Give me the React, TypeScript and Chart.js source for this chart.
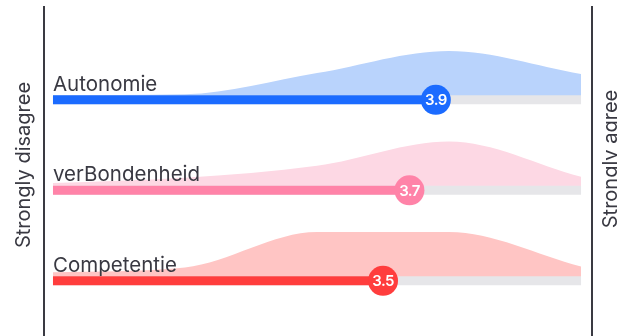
import React, { useEffect, useRef } from 'react';
import { Chart, registerables } from 'chart.js';

Chart.register(...registerables);

// ---- data ----
const CATEGORIES = ['Autonomie', 'verBondenheid', 'Competentie'];
const MEANS = [3.9, 3.7, 3.5];
const SCALE_POINTS = [1, 2, 3, 4, 5];
const DIST_AUTONOMIE = [0, 0.02, 0.5, 1, 0.48];
const DIST_VERBONDENHEID = [0.06, 0.18, 0.45, 1, 0.2];
const DIST_COMPETENTIE = [0.09, 0.2, 1, 1, 0.22];
const SIDE_LABELS = ['Strongly disagree', 'Strongly agree'];

const DISTRIBUTIONS = [DIST_AUTONOMIE, DIST_VERBONDENHEID, DIST_COMPETENTIE];

// ---- styles ----
const BAR_COLORS = ['#1b6bff', '#ff83a8', '#ff3d3d'];
const AREA_COLORS = ['#b9d3fc', '#fdd8e4', '#ffc5c4'];
const TRACK_COLOR = '#e6e6e9';
const AXIS_COLOR = '#3a3a42';
const TEXT_COLOR = '#393942';
const FONT = 'Inter, "Noto Sans", sans-serif';

const SCALE_MIN = 1;
const SCALE_MAX = 5;
const X_MIN = 0.932;
const X_MAX = 5.083;
const Y_MIN = -0.61;
const Y_MAX = 3.025;
const AREA_LIFT = 0.05;
const AREA_SCALE = 0.49;

export default function App() {
  const ref = useRef<HTMLCanvasElement>(null);

  useEffect(() => {
    const canvas = ref.current;
    if (!canvas) return;

    const datasets: any[] = [];
    const markerIdx: number[] = [];
    CATEGORIES.forEach((cat, i) => {
      const base = CATEGORIES.length - 1 - i;
      const dist = DISTRIBUTIONS[i];
      datasets.push({
        type: 'line',
        label: cat + ' distribution',
        data: SCALE_POINTS.map((x, k) => ({ x, y: base + AREA_LIFT + dist[k] * AREA_SCALE })),
        borderWidth: 0,
        borderColor: 'rgba(0,0,0,0)',
        backgroundColor: AREA_COLORS[i],
        pointRadius: 0,
        cubicInterpolationMode: 'monotone',
        fill: { value: base },
        order: 10,
      });
      datasets.push({
        type: 'line',
        label: cat + ' track',
        data: [{ x: SCALE_MIN, y: base }, { x: SCALE_MAX, y: base }],
        borderWidth: 9,
        borderColor: TRACK_COLOR,
        borderCapStyle: 'butt',
        pointRadius: 0,
        fill: false,
        order: 5,
      });
      datasets.push({
        type: 'line',
        label: cat + ' score',
        data: [{ x: SCALE_MIN, y: base }, { x: MEANS[i], y: base }],
        borderWidth: 9,
        borderColor: BAR_COLORS[i],
        borderCapStyle: 'butt',
        pointRadius: 0,
        fill: false,
        order: 3,
      });
      markerIdx.push(datasets.length);
      datasets.push({
        type: 'line',
        label: cat + ' mean',
        data: [{ x: MEANS[i], y: base }],
        showLine: false,
        pointRadius: 15,
        pointHoverRadius: 15,
        pointBorderWidth: 0,
        pointBackgroundColor: BAR_COLORS[i],
        pointBorderColor: BAR_COLORS[i],
        fill: false,
        order: 1,
      });
    });

    const textPlugin = {
      id: 'textLabels',
      afterDatasetsDraw(chart: any) {
        const { ctx, scales, chartArea } = chart;
        const xs = scales.x;
        const ys = scales.y;
        ctx.save();
        CATEGORIES.forEach((cat, i) => {
          const base = CATEGORIES.length - 1 - i;
          const py = ys.getPixelForValue(base);
          ctx.font = `400 20.5px ${FONT}`;
          ctx.fillStyle = TEXT_COLOR;
          ctx.textAlign = 'left';
          ctx.textBaseline = 'alphabetic';
          ctx.fillText(cat, xs.getPixelForValue(SCALE_MIN), py - 9);

          const pt = chart.getDatasetMeta(markerIdx[i]).data[0];
          if (pt) {
            ctx.font = `600 15px ${FONT}`;
            (ctx as any).letterSpacing = '-0.6px';
            ctx.fillStyle = '#ffffff';
            ctx.textAlign = 'center';
            ctx.textBaseline = 'middle';
            ctx.fillText(MEANS[i].toFixed(1), pt.x, pt.y + 1);
            (ctx as any).letterSpacing = '0px';
          }
        });

        ctx.font = `400 20px ${FONT}`;
        ctx.fillStyle = TEXT_COLOR;
        ctx.textAlign = 'center';
        ctx.textBaseline = 'alphabetic';
        // left side label
        ctx.save();
        ctx.translate(chartArea.left - 14, chartArea.top + 158);
        ctx.rotate(-Math.PI / 2);
        ctx.fillText(SIDE_LABELS[0], 0, 0);
        ctx.restore();
        // right side label
        ctx.save();
        ctx.translate(chart.width, chartArea.top + 152);
        ctx.rotate(-Math.PI / 2);
        ctx.fillText(SIDE_LABELS[1], 0, 0);
        ctx.restore();
        ctx.restore();
      },
    };

    const axisOpts = (position: string) => ({
      type: 'linear',
      position,
      min: Y_MIN,
      max: Y_MAX,
      ticks: { display: false },
      grid: { display: false, drawTicks: false },
      border: { display: true, color: AXIS_COLOR, width: 2 },
    });

    const chart = new Chart(canvas, {
      type: 'line',
      data: { datasets },
      options: {
        animation: false,
        responsive: false,
        devicePixelRatio: 1,
        events: [],
        layout: { autoPadding: false, padding: { left: 44, right: 25, top: 7, bottom: 0 } },
        plugins: {
          legend: { display: false },
          tooltip: { enabled: false },
        },
        scales: {
          x: { type: 'linear', display: false, min: X_MIN, max: X_MAX },
          y: axisOpts('left') as any,
          yR: axisOpts('right') as any,
        },
      },
      plugins: [textPlugin],
    } as any);

    return () => chart.destroy();
  }, []);

  return (
    <div
      style={{
        position: 'fixed',
        left: 0,
        top: 0,
        width: 617,
        height: 336,
        overflow: 'hidden',
        background: '#ffffff',
      }}
    >
      <canvas ref={ref} width={617} height={336} style={{ display: 'block' }} />
    </div>
  );
}
